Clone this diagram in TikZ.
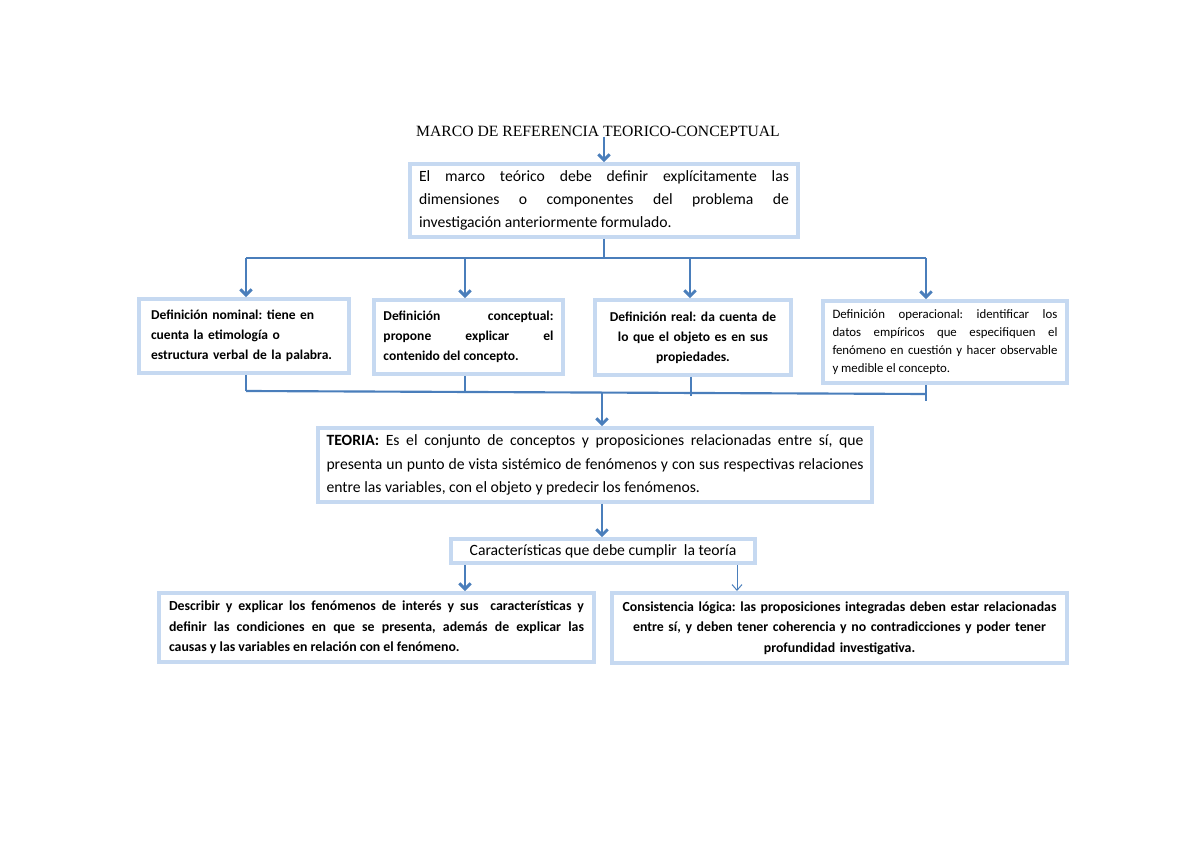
\documentclass[tikz,border=0pt]{standalone}
\usepackage{fontspec}
\setmainfont{Carlito}
\newfontfamily\ttlfont{Liberation Serif}
\usetikzlibrary{arrows.meta}
\definecolor{boxblue}{RGB}{198,217,241}
\definecolor{linkblue}{RGB}{74,126,187}
\hyphenpenalty=10000
\exhyphenpenalty=10000
\tolerance=9999
\emergencystretch=20pt
\frenchspacing

\begin{document}
\begin{tikzpicture}[x=0.7017pt,y=-0.7017pt,
        every node/.style={inner sep=0pt},
        box/.style={draw=boxblue, line width=2.8pt, fill=white, rectangle},
        link/.style={draw=linkblue, line width=1.5pt},
        arr/.style={link, -{Straight Barb[length=4pt,width=8pt,line width=2pt]}},
        thinarr/.style={draw=linkblue, line width=0.7pt, -{Straight Barb[length=4pt,width=7pt]}}]
        \useasboundingbox (0,0) rectangle (1200,848);

        \node[font=\ttlfont\fontsize{11}{13}\selectfont] (marco) at (598,131) {MARCO DE REFERENCIA TEORICO-CONCEPTUAL};

        \node[box, minimum width=271.6pt, minimum height=51.2pt, text width=259.6pt, align=justify,
              font=\fontsize{11}{16.2}\selectfont] (marcot) at (604,200.5)
              {El marco teórico debe definir explícitamente las\linebreak dimensiones o componentes del problema de\linebreak investigación anteriormente formulado.};

        \node[box, minimum width=147.4pt, minimum height=51.9pt, text width=130.5pt, align=left,
              font=\fontsize{9.5}{14}\selectfont\bfseries] (nominal) at (244,336)
              {Definición nominal: tiene en\\cuenta la etimología o\\estructura verbal de la palabra.};
        \node[box, minimum width=132.6pt, minimum height=51.9pt, text width=119.3pt, align=justify,
              font=\fontsize{9.5}{14}\selectfont\bfseries] (conceptual) at (468.5,337)
              {Definición conceptual:\linebreak propone explicar el\linebreak contenido del concepto.};
        \node[box, minimum width=137.5pt, minimum height=52.6pt, text width=123.5pt, align=center,
              font=\fontsize{9.5}{14}\selectfont\bfseries] (real) at (693,337.5)
              {Definición real: da cuenta de\\lo que el objeto es en sus\\propiedades.};
        \node[box, minimum width=171.2pt, minimum height=57.5pt, text width=157.9pt, align=justify,
              font=\fontsize{9}{12.6}\selectfont] (operacional) at (945,342)
              {Definición operacional: identificar los\linebreak datos empíricos que especifiquen el\linebreak fenómeno en cuestión y hacer observable\linebreak y medible el concepto.};

        \node[box, minimum width=388.7pt, minimum height=51.9pt, text width=376.8pt, align=justify,
              font=\fontsize{11}{16.5}\selectfont] (teoria) at (595,465)
              {\textbf{TEORIA:} Es el conjunto de conceptos y proposiciones relacionadas entre sí, que\linebreak presenta un punto de vista sistémico de fenómenos y con sus respectivas relaciones\linebreak entre las variables, con el objeto y predecir los fenómenos.};

        \node[box, minimum width=213.3pt, minimum height=16.8pt, align=center,
              font=\fontsize{11}{13}\selectfont] (carac) at (603,551)
              {Características que debe cumplir\ \ la teoría};

        \node[box, minimum width=305.2pt, minimum height=48.4pt, text width=291.2pt, align=justify,
              font=\fontsize{9.7}{14.4}\selectfont\bfseries] (describir) at (376.5,627.5)
              {Describir y explicar los fenómenos de interés y sus\ \ características y\linebreak definir las condiciones en que se presenta, además de explicar las\linebreak causas y las variables en relación con el fenómeno.};
        \node[box, minimum width=319.3pt, minimum height=49.1pt, text width=310pt, align=center,
              font=\fontsize{9.7}{14.4}\selectfont\bfseries] (consistencia) at (839.5,628)
              {Consistencia lógica: las proposiciones integradas deben estar relacionadas\\entre sí, y deben tener coherencia y no contradicciones y poder tener\\profundidad investigativa.};

        \draw[arr] (marco.south -| marcot.north) -- (marcot.north);

        \coordinate (busL) at (246,258);
        \coordinate (busR) at (926,258);
        \draw[link] (marcot.south) -- (marcot.south |- busL);
        \draw[link] (busL) -- (busR);
        \foreach \n/\x in {nominal/246, conceptual/465, real/690, operacional/926}
            \draw[arr] (\x,258) -- (\x,0 |- \n.north);

        \foreach \n/\x/\y in {nominal/246/391, conceptual/465/391, real/691/396, operacional/926/401}
            \draw[link] (\x,0 |- \n.south) -- (\x,\y);
        \coordinate (joinL) at (246,391);
        \coordinate (joinR) at (926,394);
        \draw[link] (joinL) -- (joinR);
        \draw[arr] (602,392) -- (602,0 |- teoria.north);

        \draw[arr] (602,0 |- teoria.south) -- (602,0 |- carac.north);
        \draw[arr] (465,0 |- carac.south) -- (465,0 |- describir.north);
        \draw[thinarr] (737,0 |- carac.south) -- (737,0 |- consistencia.north);
    \end{tikzpicture}
\end{document}
